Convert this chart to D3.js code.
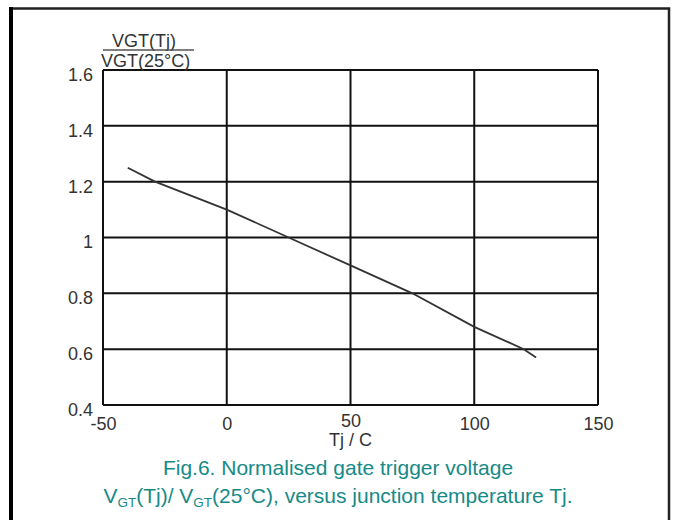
<!DOCTYPE html>
<html>
<head>
<meta charset="utf-8">
<script src="https://cdn.jsdelivr.net/npm/d3@7"></script>
<style>
  html, body { margin: 0; padding: 0; background: #fff; }
  svg { display: block; }
</style>
</head>
<body>
<script>
// Normalised gate trigger voltage vs junction temperature
const tempC   = [-40, -29, 0, 25, 50, 75, 100, 120, 125];
const vgtNorm = [1.25, 1.2, 1.10, 1.0, 0.9, 0.8, 0.68, 0.6, 0.57];
const xTicks  = [-50, 0, 50, 100, 150];
const yTicks  = [0.4, 0.6, 0.8, 1, 1.2, 1.4, 1.6];

const W = 676, H = 520;
const plot = { left: 103, right: 598, top: 70, bottom: 405 };
const ink = "#111";
const labelInk = "#333";
const teal = "#168a88";
const FONT = "Arial, 'Liberation Sans', sans-serif";

const svg = d3.select("body").append("svg")
  .attr("width", W).attr("height", H)
  .style("font-family", FONT);

// outer frame (left edge heavier)
svg.append("path")
  .attr("d", `M11,${H + 5} V8.5 H669 V${H + 5}`)
  .attr("fill", "none").attr("stroke", "#222").attr("stroke-width", 2.5);
svg.append("line")
  .attr("x1", 11).attr("x2", 11).attr("y1", 7).attr("y2", H + 5)
  .attr("stroke", "#000").attr("stroke-width", 4);

const x = d3.scaleLinear().domain([-50, 150]).range([plot.left, plot.right]);
const y = d3.scaleLinear().domain([0.4, 1.6]).range([plot.bottom, plot.top]);

// grid
const grid = svg.append("g").attr("stroke", ink).attr("stroke-width", 2);
grid.selectAll("line.v").data(xTicks).join("line")
  .attr("class", "v")
  .attr("x1", d => x(d)).attr("x2", d => x(d))
  .attr("y1", plot.top).attr("y2", plot.bottom);
grid.selectAll("line.h").data(yTicks).join("line")
  .attr("class", "h")
  .attr("x1", plot.left).attr("x2", plot.right)
  .attr("y1", d => y(d)).attr("y2", d => y(d));

// axes (labels only)
const yAxis = svg.append("g")
  .attr("transform", `translate(${plot.left},0)`)
  .call(d3.axisLeft(y).tickValues(yTicks).tickSize(0).tickPadding(10)
    .tickFormat(d => String(+d.toFixed(1))));
const xAxis = svg.append("g")
  .attr("transform", `translate(0,${plot.bottom})`)
  .call(d3.axisBottom(x).tickValues(xTicks).tickSize(0).tickPadding(12)
    .tickFormat(d => String(d)));
[yAxis, xAxis].forEach(a => {
  a.select(".domain").remove();
  a.selectAll("text")
    .attr("fill", labelInk)
    .style("font-size", "18px")
    .style("font-family", FONT);
});
yAxis.selectAll("text").attr("dy", "0.58em");
// the "50" label sits a little higher, tucked above the axis title
xAxis.selectAll("text").filter(d => d === 50).attr("y", 9);

// axis titles
svg.append("text")
  .attr("x", x(50)).attr("y", 446)
  .attr("text-anchor", "middle")
  .attr("fill", labelInk).style("font-size", "18px")
  .text("Tj / C");

const yTitle = svg.append("g").attr("fill", labelInk).style("font-size", "18px");
yTitle.append("text").attr("x", 112).attr("y", 47).text("VGT(Tj)");
yTitle.append("line")
  .attr("x1", 103).attr("x2", 194).attr("y1", 50).attr("y2", 50)
  .attr("stroke", "#555").attr("stroke-width", 1.3);
yTitle.append("text").attr("x", 101).attr("y", 67).text("VGT(25°C)");

// curve
const line = d3.line().x((d, i) => x(tempC[i])).y(d => y(d));
svg.append("path")
  .datum(vgtNorm)
  .attr("d", line)
  .attr("fill", "none")
  .attr("stroke", "#333")
  .attr("stroke-width", 1.8);

// caption
const cap = svg.append("g").attr("fill", teal).style("font-size", "21px")
  .attr("text-anchor", "middle");
cap.append("text").attr("x", 338).attr("y", 475)
  .text("Fig.6. Normalised gate trigger voltage");
const l2 = cap.append("text").attr("x", 338).attr("y", 503);
l2.append("tspan").text("V");
l2.append("tspan").attr("dy", 4).style("font-size", "13.5px").text("GT");
l2.append("tspan").attr("dy", -4).text("(Tj)/ V");
l2.append("tspan").attr("dy", 4).style("font-size", "13.5px").text("GT");
l2.append("tspan").attr("dy", -4).text("(25°C), versus junction temperature Tj.");
</script>
</body>
</html>
